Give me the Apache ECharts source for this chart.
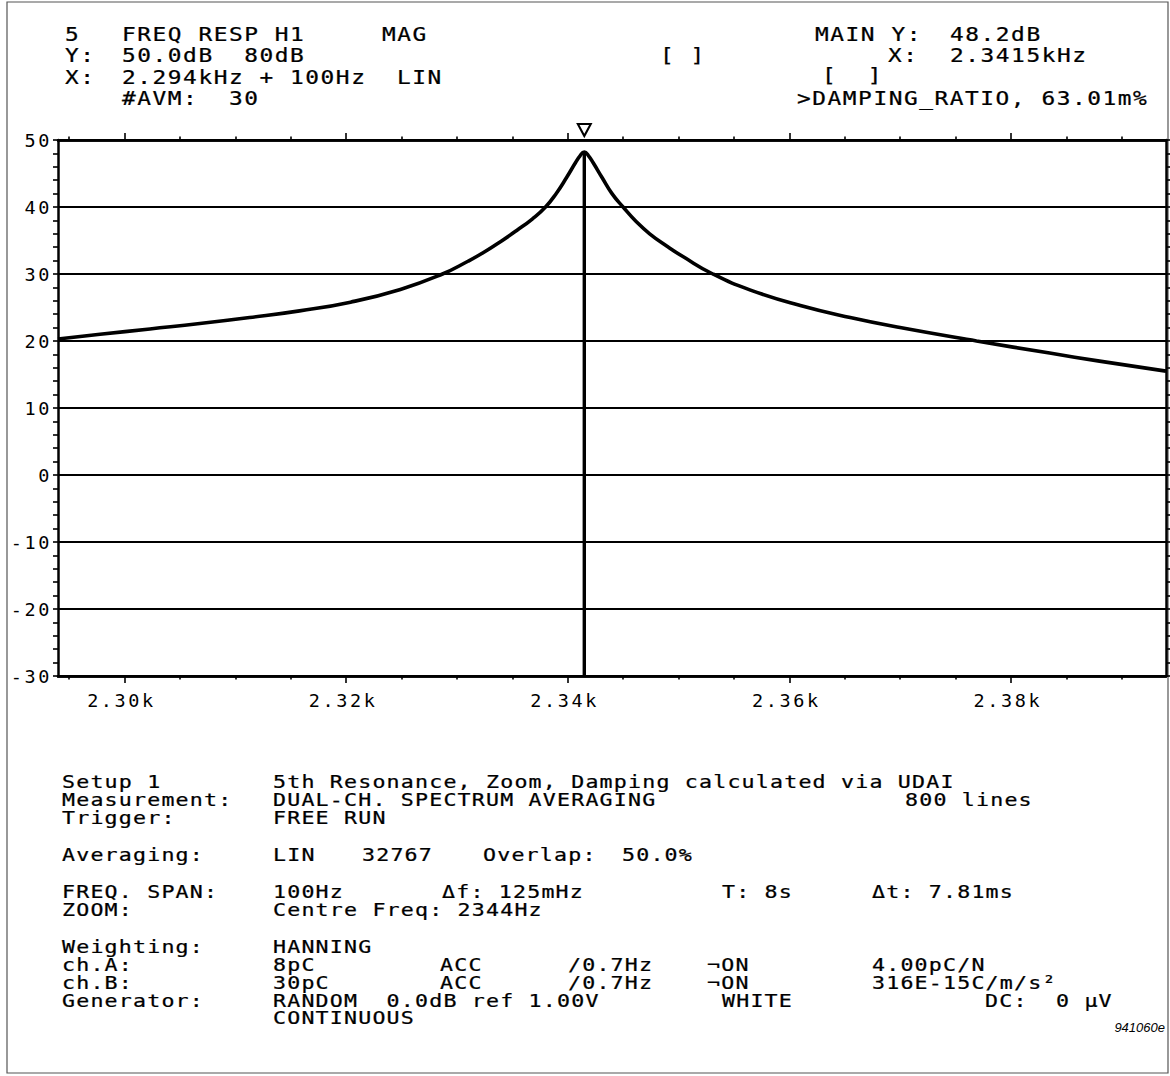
<!DOCTYPE html>
<html>
<head>
<meta charset="utf-8">
<script src="https://cdn.jsdelivr.net/npm/echarts@6/dist/echarts.min.js"></script>
<style>
  html, body { margin: 0; padding: 0; background: #fff; }
  #chart { width: 1170px; height: 1076px; }
  /* plotter-style fixed pitch lettering */
  #chart svg text { letter-spacing: 1px; }
  #chart svg text[style*="19px"] { letter-spacing: 1.3px; }
  #chart svg text[style*="18.5px"] { letter-spacing: 2.6px; }
  #chart svg text[style*="Liberation Sans"] { letter-spacing: 0; }
</style>
</head>
<body>
<div id="chart"></div>
<script>
// Zoomed frequency response H1 (magnitude, dB) around the 5th resonance
const freqHz = [2294, 2297.8, 2302.3, 2306.8, 2311.3, 2315.8, 2320.4, 2324.9, 2328.7, 2331.0,
                2332.4, 2334.0, 2335.4, 2336.8, 2338.0, 2339.0, 2339.9, 2340.7, 2341.1, 2341.5,
                2341.9, 2342.3, 2343.1, 2344.0, 2345.0, 2346.2, 2347.4, 2349.0, 2350.4, 2353.1,
                2356.5, 2361.0, 2365.5, 2370.0, 2376.9, 2383.5, 2388.0, 2394];
const magDb  = [20.3, 21.0, 21.8, 22.6, 23.5, 24.5, 25.8, 27.7, 30.0, 31.9,
                33.2, 34.9, 36.5, 38.2, 40.0, 42.1, 44.4, 46.6, 47.6, 48.2,
                47.6, 46.6, 44.4, 42.0, 40.0, 37.8, 36.0, 34.1, 32.6, 30.0,
                27.6, 25.3, 23.5, 22.0, 20.0, 18.2, 17.0, 15.5];

// main cursor
const markerFreq = 2341.5;
const markerLevel = 48.2;

// axes
const xRange = [2294, 2394];
const yRange = [-30, 50];
const yStep = 10;
const majorFreqTicks = [2300, 2320, 2340, 2360, 2380];
const minorFreqTicks = [2295, 2305, 2310, 2315, 2325, 2330, 2335, 2345, 2350,
                        2355, 2365, 2370, 2375, 2385, 2390];

// header block
const headerKeys = ['5', 'Y:', 'X:', ''];
const headerValues = ['FREQ RESP H1', '50.0dB  80dB', '2.294kHz + 100Hz  LIN', '#AVM:  30'];
const headerMode = 'MAG';
const cursorKeys = ['MAIN Y:', 'X:'];
const cursorValues = [markerLevel.toFixed(1) + 'dB', (markerFreq / 1000).toFixed(4) + 'kHz'];
const cursorBrackets = ['[ ]', '[  ]'];
const dampingText = '>DAMPING_RATIO, 63.01m%';

// setup block
const setupKeys = ['Setup 1', 'Measurement:', 'Trigger:', 'Averaging:', 'FREQ. SPAN:', 'ZOOM:',
                   'Weighting:', 'ch.A:', 'ch.B:', 'Generator:', ''];
const setupValues = ['5th Resonance, Zoom, Damping calculated via UDAI',
                     'DUAL-CH. SPECTRUM AVERAGING', 'FREE RUN', 'LIN', '100Hz',
                     'Centre Freq: 2344Hz', 'HANNING', '8pC', '30pC',
                     'RANDOM  0.0dB ref 1.00V', 'CONTINUOUS'];
const setupExtras = [
  [],
  ['800 lines'],
  [],
  ['32767', 'Overlap:', '50.0%'],
  ['\u0394f: 125mHz', 'T: 8s', '\u0394t: 7.81ms'],
  [],
  [],
  ['ACC', '/0.7Hz', '\u00acON', '4.00pC/N'],
  ['ACC', '/0.7Hz', '\u00acON', '316E-15C/m/s\u00b2'],
  ['WHITE', 'DC:  0 \u00b5V'],
  []
];
const figureId = '941060e';

// ---- layout ----
const plot = { left: 58, top: 140, width: 1108, height: 536 };
const headerRowY = [35, 56, 78, 99];
const setupRowY = [782, 800, 818, 855, 892, 910, 947, 965, 983, 1001, 1018];
const setupExtraX = [
  [], [905], [], [362, 483, 622], [442, 722, 872], [], [],
  [440, 568, 707, 872], [440, 568, 707, 872], [722, 985], []
];

const INK = '#000';
const MONO = '"DejaVu Sans Mono", "Liberation Mono", monospace';
const headFont = '19px ' + MONO;
const bodyFont = '18px ' + MONO;
const WIDEN = 1.2;   // plotter glyphs are wider than the screen font

function txt(text, x, y, font, align, widen) {
  return {
    type: 'text', x: x, y: y, silent: true,
    scaleX: widen || 1,
    style: {
      text: text, font: font, fill: INK,
      stroke: INK, lineWidth: widen ? 0.25 : 0,
      textAlign: align || 'left', align: align || 'left',
      textVerticalAlign: 'middle', verticalAlign: 'middle'
    }
  };
}
const head = (t, x, y) => txt(t, x, y, headFont, 'left', WIDEN);
const body = (t, x, y) => txt(t, x, y, bodyFont, 'left', WIDEN);

const graphics = [
  { type: 'rect', silent: true, shape: { x: 7, y: 2, width: 1161, height: 1071 },
    style: { fill: 'none', stroke: '#555', lineWidth: 1.2 } }
];
headerKeys.forEach((k, i) => {
  if (k) graphics.push(head(k, 65, headerRowY[i]));
  graphics.push(head(headerValues[i], 122, headerRowY[i]));
});
graphics.push(head(headerMode, 382, headerRowY[0]));
graphics.push(head(cursorKeys[0], 815, headerRowY[0]));
graphics.push(head(cursorValues[0], 950, headerRowY[0]));
graphics.push(head(cursorBrackets[0], 660, headerRowY[1]));
graphics.push(head(cursorKeys[1], 888, headerRowY[1]));
graphics.push(head(cursorValues[1], 950, headerRowY[1]));
graphics.push(head(cursorBrackets[1], 822, headerRowY[2] - 2));
graphics.push(head(dampingText, 797, headerRowY[3]));

setupKeys.forEach((k, i) => {
  if (k) graphics.push(body(k, 62, setupRowY[i]));
  graphics.push(body(setupValues[i], 273, setupRowY[i]));
  setupExtras[i].forEach((t, j) => graphics.push(body(t, setupExtraX[i][j], setupRowY[i])));
});
graphics.push(txt(figureId, 1165, 1027, 'italic 13px "Liberation Sans", Arial, sans-serif', 'right'));

function freqAxis(position, ticks, len, withLabels) {
  return {
    type: 'value', position: position, min: xRange[0], max: xRange[1],
    splitNumber: 5,
    axisLine: { show: true, onZero: false, lineStyle: { color: INK, width: 2.5 } },
    axisTick: { show: true, inside: false, length: len, customValues: ticks,
                lineStyle: { color: INK, width: 1.6 } },
    axisLabel: withLabels ? {
      show: true, customValues: majorFreqTicks, margin: 15,
      fontFamily: 'DejaVu Sans Mono', fontSize: 18.5, color: INK,
      padding: [0, 6, 0, 0],
      formatter: v => (v / 1000).toFixed(2) + 'k'
    } : { show: false },
    splitLine: { show: false },
    minorTick: { show: false }
  };
}

function levelAxis(position, withLabels, len) {
  return {
    type: 'value', position: position, min: yRange[0], max: yRange[1], interval: yStep,
    axisLine: { show: true, onZero: false, lineStyle: { color: INK, width: 2.5 } },
    axisTick: { show: true, inside: false, length: len, lineStyle: { color: INK, width: 1.6 } },
    minorTick: { show: true, splitNumber: 5, length: len, lineStyle: { color: INK, width: 1.6 } },
    axisLabel: withLabels ? {
      show: true, margin: 6, fontFamily: 'DejaVu Sans Mono', fontSize: 18.5, color: INK
    } : { show: false },
    splitLine: withLabels ? { show: true, lineStyle: { color: INK, width: 2 } } : { show: false }
  };
}

const option = {
  animation: false,
  backgroundColor: '#fff',
  grid: Object.assign({ containLabel: false, outerBoundsMode: 'none', show: false }, plot),
  xAxis: [
    freqAxis('bottom', majorFreqTicks, 7, true),
    freqAxis('bottom', minorFreqTicks, 3.5, false),
    freqAxis('top', majorFreqTicks, 7, false),
    freqAxis('top', minorFreqTicks, 3.5, false)
  ],
  yAxis: [
    levelAxis('left', true, 5),
    levelAxis('right', false, 4)
  ],
  graphic: { elements: graphics },
  series: [
    {
      name: 'H1 magnitude', type: 'line', xAxisIndex: 0, yAxisIndex: 0,
      data: freqHz.map((f, i) => [f, magDb[i]]),
      showSymbol: false, smooth: 0.5, clip: true, z: 4,
      lineStyle: { color: INK, width: 3.6 },
      markPoint: {
        silent: true,
        symbol: 'triangle', symbolRotate: 180, symbolSize: [13, 12], symbolOffset: [0, -10],
        itemStyle: { color: '#fff', borderColor: INK, borderWidth: 2 },
        label: { show: false },
        data: [{ coord: [markerFreq, yRange[1]] }]
      }
    },
    {
      name: 'main cursor', type: 'line', xAxisIndex: 0, yAxisIndex: 0,
      data: [[markerFreq, yRange[0]], [markerFreq, markerLevel]],
      showSymbol: false, z: 5,
      lineStyle: { color: INK, width: 3.4 }
    }
  ]
};

const chart = echarts.init(document.getElementById('chart'), null, { renderer: 'svg', width: 1170, height: 1076 });
chart.setOption(option);
</script>
</body>
</html>
